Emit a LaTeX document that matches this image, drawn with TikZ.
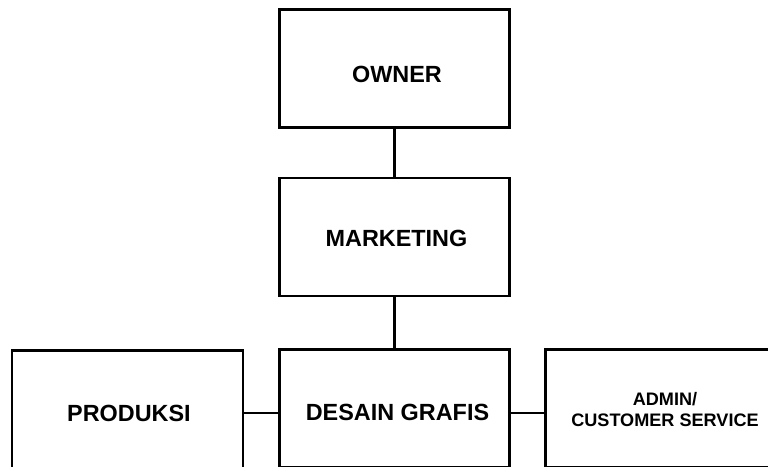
\documentclass[tikz,border=0pt]{standalone}
\usepackage{fontspec}
\setmainfont{Liberation Sans}
\begin{document}
\begin{tikzpicture}[x=1pt,y=-1pt,
  box/.style={draw=black,line width=2.5pt,rectangle,inner sep=0pt,minimum width=230pt,minimum height=118pt},
  lbl/.style={anchor=base,inner sep=0pt,font=\bfseries\fontsize{23.4}{26}\selectfont},
  smalllbl/.style={anchor=base,inner sep=0pt,align=center,font=\bfseries\fontsize{18.1}{20.3}\selectfont},
  conn/.style={draw=black,line width=2.5pt}]
\useasboundingbox (0,0) rectangle (768,466);
\clip (0,0) rectangle (768,466);
\fill[white] (0,0) rectangle (768,466);
% boxes
\node[box] (owner) at (394.5,68.5) {};
\node[box] (marketing) at (394.5,236.8) {};
\node[box] (desain) at (394.5,408.3) {};
\node[box,minimum width=231pt] (produksi) at (127.7,409.5) {};
\node[box,minimum width=232pt] (admin) at (661.7,408.3) {};
% labels
\node[lbl] (ownertxt) at (397,82) {OWNER};
\node[lbl] (marketingtxt) at (396.5,246) {MARKETING};
\node[lbl] (desaintxt) at (397.5,420) {DESAIN GRAFIS};
\node[lbl] (produksitxt) at (129,421.5) {PRODUKSI};
\node[smalllbl] (admintxt) at (665,426) {ADMIN/\\CUSTOMER SERVICE};
% connectors
\draw[conn] (owner.south) -- (marketing.north);
\draw[conn] (marketing.south) -- (desain.north);
\draw[conn] (produksi.east |- 0,413) -- (desain.west |- 0,413);
\draw[conn] (desain.east |- 0,413) -- (admin.west |- 0,413);
\end{tikzpicture}
\end{document}
